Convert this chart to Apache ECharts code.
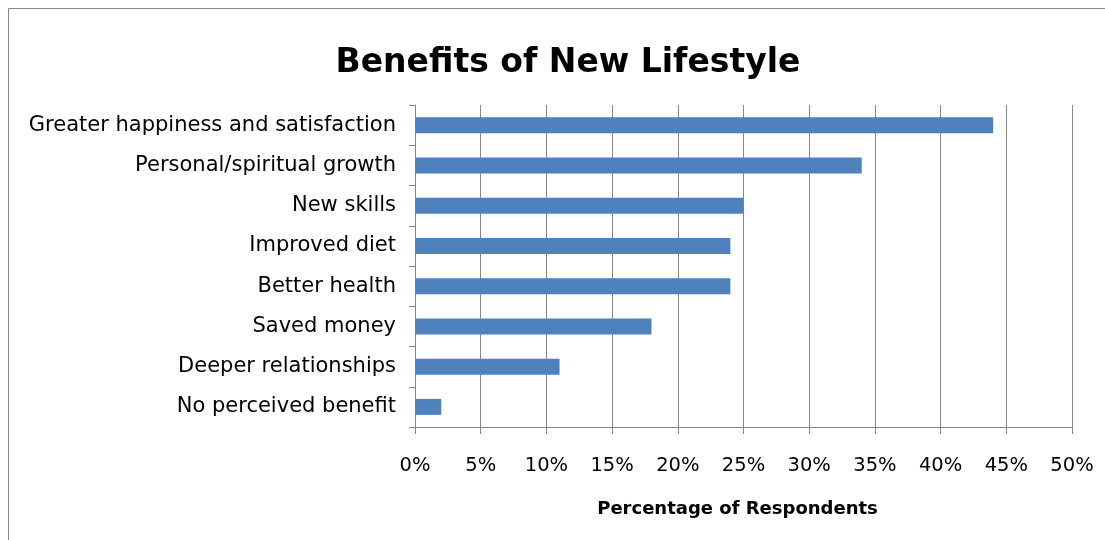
<!DOCTYPE html>
<html><head><meta charset="utf-8">
<script src="https://cdn.jsdelivr.net/npm/echarts@6/dist/echarts.min.js"></script>
<style>html,body{margin:0;padding:0;background:#fff}#c{width:1105px;height:540px}</style>
</head><body><div id="c"></div>
<script>
const categories = ["Greater happiness and satisfaction","Personal/spiritual growth","New skills","Improved diet","Better health","Saved money","Deeper relationships","No perceived benefit"];
const values = [44, 34, 25, 24, 24, 18, 11, 2];
const titleText = "Benefits of New Lifestyle";
const axisTitle = "Percentage of Respondents";

const chart = echarts.init(document.getElementById('c'), null, {renderer:'canvas'});
const FONT = 'DejaVu Sans';
chart.setOption({
  animation: false,
  graphic: [{type:'rect', shape:{x:8.5,y:8.5,width:1200,height:700}, style:{fill:'none', stroke:'#868686', lineWidth:1}, z:-1}],
  title: {text: titleText, left: 563, top: 42, textAlign: 'center',
    textStyle:{fontFamily:FONT, fontSize:33, fontWeight:'bold', color:'#000'}},
  grid: {left:415, right:33, top:105, bottom:113, containLabel:false},
  xAxis: {type:'value', min:0, max:50, interval:5,
    name: axisTitle, nameLocation:'middle', nameGap:73,
    nameTextStyle:{fontFamily:FONT, fontSize:18, fontWeight:'bold', color:'#000', padding:[0,12,0,0]},
    axisLine:{show:true, lineStyle:{color:'#868686'}},
    axisTick:{show:true, length:7, lineStyle:{color:'#868686'}},
    axisLabel:{formatter:'{value}%', fontFamily:FONT, fontSize:19.5, color:'#000', margin:29},
    splitLine:{show:true, lineStyle:{color:'#868686', width:1}}},
  yAxis: {type:'category', data:categories, inverse:true,
    axisLine:{show:true, lineStyle:{color:'#868686'}},
    axisTick:{show:true, length:6, lineStyle:{color:'#868686'}},
    axisLabel:{fontFamily:FONT, fontSize:21, color:'#000', margin:19, padding:[8,0,0,0]}},
  series: [{type:'bar', data:values, barWidth:16, itemStyle:{color:'#4F81BD'}}]
});
</script></body></html>
